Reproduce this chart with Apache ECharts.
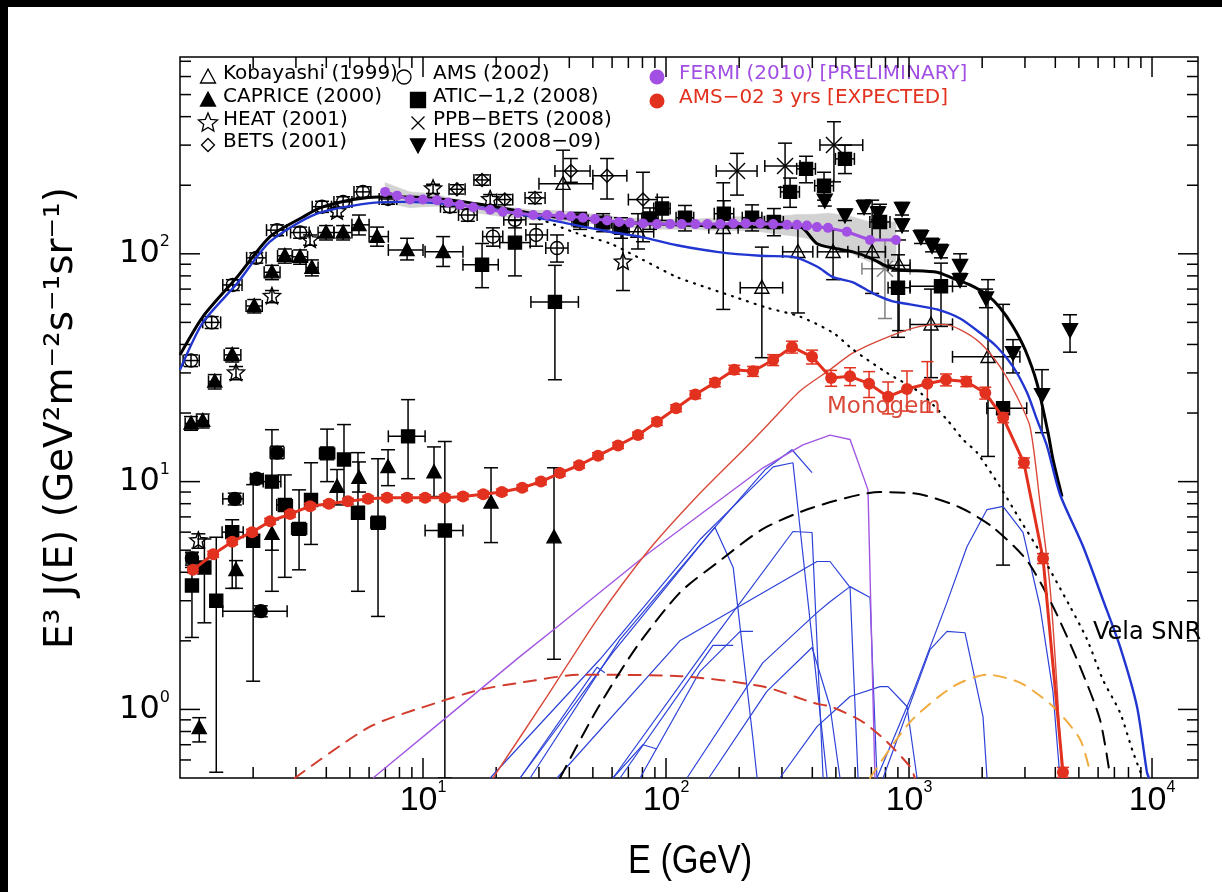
<!DOCTYPE html>
<html>
<head>
<meta charset="utf-8">
<script src="https://cdn.jsdelivr.net/npm/echarts/dist/echarts.min.js"></script>
<style>
  html, body { margin: 0; padding: 0; background: #fff; overflow: hidden; }
  #chart { width: 1222px; height: 892px; }
</style>
</head>
<body>
<div id="chart"></div>
<script>
// Electron + positron spectrum, E^3 J(E) in GeV^2 m^-2 s^-1 sr^-1 versus E in GeV.

const X_MIN = 1, X_MAX = 15460, Y_MIN = 0.5, Y_MAX = 731;
const xDecades = [1, 2, 3, 4];
const yDecades = [0, 1, 2];

// Measured points: [E, flux, E_low, E_high, flux_low, flux_high]
const kobayashi = [
  [37.7, 203, 30, 50, 143, 285],
  [76.7, 125, 66, 89, 105, 150],
  [172, 130, 150, 198, 57, 205],
  [248, 71, 202, 302, 35, 107],
  [349, 102, 302, 402, 55, 130],
  [487, 102, 420, 560, 77, 127],
  [705, 102, 620, 800, 67, 172],
  [910, 89, 820, 1010, 46, 115],
  [1232, 49, 1010, 1510, 28.6, 70],
  [2114, 35.3, 1510, 2860, 12.9, 77]
];
const caprice = [
  [1.11, 18, 1.05, 1.17, 16.8, 19.3],
  [1.24, 18.5, 1.17, 1.31, 17.2, 19.8],
  [1.39, 27.5, 1.31, 1.47, 25.5, 29.5],
  [1.64, 36, 1.52, 1.78, 33.5, 38.5],
  [2.02, 59, 1.87, 2.18, 55, 63],
  [2.39, 83, 2.22, 2.58, 77, 89],
  [2.70, 98, 2.52, 2.9, 91, 105],
  [3.12, 97, 2.9, 3.35, 90, 104],
  [3.49, 87, 3.3, 3.7, 80, 94],
  [3.99, 124, 3.7, 4.3, 115, 133],
  [4.69, 124, 4.3, 5.1, 115, 133],
  [5.45, 134, 5.1, 6.0, 121, 148],
  [6.47, 119, 6.0, 7.2, 108, 131],
  [8.6, 104, 7.2, 10.0, 94, 117],
  [12.1, 102, 10.2, 14.6, 88, 119],
  [1.2, 0.83, 1.2, 1.2, 0.72, 0.92],
  [1.7, 4.1, 1.7, 1.7, 3.4, 4.5],
  [2.39, 5.9, 2.39, 2.39, 5.0, 6.8],
  [4.43, 9.5, 4.43, 4.43, 7.9, 11.3],
  [5.45, 10.4, 5.45, 5.45, 9.0, 12.2],
  [7.18, 11.6, 7.18, 7.18, 9.6, 13.8],
  [11.1, 11, 11.1, 11.1, 8.6, 14.2],
  [19.05, 8.1, 19.05, 19.05, 5.4, 11.5],
  [34.6, 5.7, 34.6, 34.6, 1.66, 11.5]
];
const heat = [
  [1.19, 5.5, 1.19, 1.19, 5.1, 5.9],
  [1.7, 30, 1.7, 1.7, 28, 32],
  [2.39, 65, 2.39, 2.39, 61, 69],
  [3.43, 115, 3.43, 3.43, 109, 121],
  [4.43, 153, 4.43, 4.43, 146, 160],
  [11.0, 193, 11.0, 11.0, 184, 202],
  [18.9, 173, 18.9, 18.9, 164, 182],
  [66.5, 92, 66.5, 66.5, 69, 124]
];
const bets = [
  [13.8, 192, 12.8, 14.9, 183, 201],
  [17.5, 211, 16.2, 18.9, 200, 222],
  [21.7, 173, 20.1, 23.4, 164, 182],
  [28.9, 176, 26.3, 31.8, 166, 186],
  [40.6, 231, 34.9, 48.7, 206, 262],
  [57.2, 220, 50, 69, 174, 262],
  [80.4, 173, 70, 92, 113, 228]
];
const ams01 = [
  [1.11, 34, 1.03, 1.2, 32, 36],
  [1.35, 50, 1.24, 1.47, 47, 53],
  [1.65, 73, 1.5, 1.8, 69, 77],
  [2.06, 96, 1.88, 2.26, 91, 101],
  [2.51, 127, 2.27, 2.75, 120, 134],
  [3.12, 124, 2.85, 3.4, 117, 131],
  [3.84, 161, 3.5, 4.2, 152, 170],
  [4.69, 169, 4.3, 5.1, 160, 178],
  [5.66, 187, 5.2, 6.1, 177, 197],
  [7.18, 174, 6.6, 7.8, 165, 183],
  [12.9, 161, 11.8, 14.0, 152, 170],
  [15.3, 148, 14.0, 16.7, 139, 157],
  [19.4, 119, 17.6, 21.3, 108, 130],
  [23.9, 141, 21.5, 26.5, 130, 152],
  [29.2, 121, 26.5, 32.5, 108, 135],
  [35.6, 106, 32, 39.5, 92, 121]
];
const atic = [
  [17.5, 89.5, 14.6, 20.4, 71, 111],
  [23.9, 112, 20.7, 27.6, 80, 140],
  [34.9, 61.5, 27.8, 43.6, 28, 89],
  [44.3, 140, 41, 47.8, 128, 152],
  [55.1, 137, 51, 59.5, 125, 150],
  [65.3, 130, 60.5, 70.5, 117, 144],
  [85.9, 143, 79.5, 92.8, 128, 159],
  [96.3, 158, 89, 104, 140, 177],
  [119.7, 144, 110, 130, 126, 163],
  [173, 150, 158, 190, 130, 171],
  [226, 144, 206, 248, 126, 164],
  [278, 138, 254, 304, 120, 158],
  [324, 187, 296, 354, 160, 215],
  [377, 236, 345, 412, 205, 268],
  [447, 199, 409, 489, 172, 228],
  [545, 261, 498, 596, 225, 300],
  [760, 138, 690, 835, 115, 165],
  [901, 71, 820, 1010, 43, 99],
  [1354, 72, 1010, 1510, 48, 91],
  [2438, 21, 2090, 3050, 4.3, 60],
  [1.12, 3.5, 1.12, 1.12, 2.07, 4.2],
  [1.26, 4.2, 1.26, 1.26, 2.4, 5.6],
  [1.41, 3.0, 1.41, 1.41, 0.53, 5.7],
  [1.64, 6.0, 1.49, 1.82, 3.4, 6.8],
  [2.0, 5.5, 2.0, 2.0, 1.33, 9.7],
  [2.39, 10, 2.2, 2.6, 3.3, 16.9],
  [2.70, 7.9, 2.5, 2.9, 3.8, 10.7],
  [3.09, 6.2, 2.88, 3.32, 4.1, 9.2],
  [3.46, 8.3, 3.46, 3.46, 5.3, 12.1],
  [4.03, 13.3, 3.75, 4.33, 10, 17],
  [4.73, 12.5, 4.73, 4.73, 8.1, 17.8],
  [5.4, 7.3, 5.4, 5.4, 3.3, 13.4],
  [6.53, 6.6, 6.1, 7.0, 2.56, 12.6],
  [8.68, 15.8, 7.2, 10.2, 10.3, 22.9],
  [12.3, 6.1, 10.2, 14.6, 0.5, 15]
];
const ppbBets = [
  [196, 231, 161, 237, 181, 276],
  [309, 243, 255, 356, 196, 306],
  [491, 300, 430, 645, 207, 380]
];
const ppbBetsSys = [
  [796, 86, 640, 1010, 52, 115]
];
const hess = [
  [450, 172, 450, 450, 162, 182],
  [545, 148, 545, 545, 140, 157],
  [653, 161, 653, 653, 150, 172],
  [745, 151, 745, 745, 141, 161],
  [936, 158, 936, 936, 148, 168],
  [936, 134, 936, 936, 126, 142],
  [1120, 119, 1120, 1120, 111, 127],
  [1244, 109, 1244, 1244, 102, 117],
  [1354, 103, 1354, 1354, 96, 110],
  [1622, 89, 1622, 1622, 80, 100],
  [1622, 77, 1622, 1622, 72, 82],
  [2074, 64, 2074, 2074, 58, 70],
  [2679, 36.8, 2679, 2679, 30, 42],
  [3526, 24.1, 3526, 3526, 16.4, 31],
  [4598, 46.4, 4598, 4598, 37, 54]
];
const positronDots = [
  [1.12, 4.6, 1.06, 1.18, 4.3, 4.9],
  [1.68, 8.4, 1.5, 1.82, 7.9, 8.9],
  [2.07, 10.3, 1.95, 2.2, 9.8, 10.8],
  [2.51, 13.4, 2.35, 2.68, 12.6, 14.3],
  [2.15, 2.7, 1.5, 2.76, 2.55, 2.85]
];

// FERMI (2010) points with fractional systematic band
const fermiE = [6.98, 7.82, 8.84, 10, 11.4, 12.7, 14.2, 16.1, 18.9, 21.3,
  24.6, 28.4, 32.4, 36.6, 40.6, 45.5, 51, 57.2, 64.1, 71.1,
  80.4, 91.8, 104, 116, 132, 148, 167, 189, 213, 244,
  276, 315, 346, 380, 418, 464, 555, 691, 884];
const fermiFlux = [187, 180, 173, 173, 172, 168, 164, 160, 156, 153,
  151, 148, 148, 147, 146, 144, 142, 140, 138, 137,
  136, 135, 135, 135, 135, 135, 135, 136, 136, 136,
  135, 134, 134, 133, 131, 130, 125, 115, 115];
const fermiSys = [0.1, 0.09, 0.08, 0.07, 0.06, 0.05, 0.05, 0.05, 0.05, 0.05,
  0.05, 0.05, 0.05, 0.05, 0.05, 0.05, 0.05, 0.05, 0.05, 0.05,
  0.05, 0.05, 0.05, 0.05, 0.05, 0.06, 0.06, 0.07, 0.07, 0.08,
  0.09, 0.1, 0.11, 0.12, 0.14, 0.16, 0.18, 0.2, 0.2];

// AMS-02 expected positron spectrum after 3 years, with fractional errors
const ams02E = [1.13, 1.37, 1.64, 1.98, 2.35, 2.84, 3.43, 4.1, 4.91, 5.94,
  7.11, 8.59, 10.2, 12.3, 14.6, 17.7, 21.1, 25.6, 30.6, 36.6,
  43.9, 52.5, 63.5, 76.7, 91.8, 110, 132, 159, 191, 228,
  276, 330, 399, 478, 572, 685, 820, 981, 1190, 1420,
  1720, 2060, 2440, 2970, 3560, 4300];
const ams02Flux = [4.1, 4.8, 5.45, 6.0, 6.7, 7.2, 7.8, 8.0, 8.2, 8.4,
  8.5, 8.5, 8.5, 8.5, 8.6, 8.8, 9.0, 9.4, 10, 10.9,
  11.8, 13, 14.4, 16, 18.3, 21, 24.1, 27.2, 31, 30.5,
  34.2, 39, 35.3, 28.5, 29, 26.9, 23.6, 25.5, 26.9, 28,
  27.5, 24.5, 19.1, 12.1, 4.6, 0.53];
const ams02Err = [0.03, 0.03, 0.03, 0.03, 0.03, 0.03, 0.03, 0.03, 0.03, 0.03,
  0.03, 0.03, 0.03, 0.03, 0.03, 0.03, 0.03, 0.03, 0.03, 0.03,
  0.03, 0.03, 0.03, 0.03, 0.035, 0.035, 0.04, 0.04, 0.045, 0.05,
  0.055, 0.06, 0.07, 0.08, 0.09, 0.13, 0.16, 0.2, 0.25, 0.06,
  0.05, 0.06, 0.05, 0.05, 0.05, 0.05];

// Model curves: [E, flux]
const totalModel = [[1.0, 36], [1.243, 53], [1.716, 79], [2.346, 119], [3.208, 145], [3.77, 159],
  [5.15, 173], [6.845, 178], [10.69, 176], [17.16, 165], [33.3, 146], [64.7, 138], [138, 133],
  [243.7, 131], [356, 131], [417, 111], [487, 106], [588, 102], [691, 96], [812, 88], [918, 85],
  [1304, 83], [1517, 78], [1782, 73], [2094, 66], [2368, 58], [2679, 48], [3002, 38], [3363, 27],
  [3733, 16.4], [3913, 12.5], [4262, 8.6]];
const backgroundModel = [[1.0, 31], [1.243, 50], [1.716, 74], [2.346, 113], [3.663, 150], [6.05, 167],
  [8.27, 169], [12.9, 165], [20.75, 155], [39.1, 136], [58.8, 125], [80.4, 118], [111, 109],
  [162, 102], [243.7, 98], [333, 97], [418, 88], [487, 79], [588, 75], [711, 67], [851, 62],
  [1010, 60], [1304, 57], [1622, 52], [1960, 45], [2303, 39], [2679, 32], [3059, 24.6], [3363, 18.7],
  [3698, 14.3], [4180, 8.8], [5200, 5.2], [6280, 3.03], [7380, 1.89], [8670, 1.03], [9530, 0.53],
  [9720, 0.5]];
const secondaryModel = [[20.75, 155], [30, 142], [43.0, 123], [58.8, 111], [80.4, 94], [111, 79],
  [147.5, 71], [188.7, 65], [260, 58], [356, 53], [487, 45], [588, 38], [812, 30], [1110, 24.6],
  [1433, 18.7], [1668, 15.3], [1905, 13.4], [2368, 9.5], [2863, 6.8], [3459, 4.9], [4598, 2.83],
  [5402, 2.03], [6280, 1.35], [7380, 0.97], [8350, 0.65], [9094, 0.51]];
const velaModel = [[36.6, 0.5], [52, 1.0], [75.9, 1.89], [114.2, 3.26], [166.8, 4.5], [250.7, 6.2],
  [402.7, 7.7], [760, 9.0], [1110, 8.8], [1622, 7.7], [2216, 6.3], [3059, 4.5], [3913, 2.83],
  [5054, 1.54], [6110, 0.9], [6720, 0.51]];
const monogemModel = [[19.4, 0.5], [32.4, 1.14], [52, 2.48], [83.5, 4.9], [134, 8.6], [215.4, 14.3],
  [275.6, 18.8], [356, 25], [473, 31], [588, 36.7], [812, 43], [1110, 48], [1380, 49], [1622, 46.5],
  [1960, 40.7], [2368, 32], [2782, 23.6], [3148, 17.4], [3459, 8.1], [3802, 3.46], [4064, 1.26],
  [4262, 0.51]];
const pulsarEnvelope = [[6.23, 0.5], [12.6, 0.93], [25.1, 1.71], [35.6, 2.3], [83.5, 4.8],
  [250.7, 11.5], [366, 14.5], [473, 16], [572, 15.3], [678, 9.2], [724, 0.5]];
const distantSnrModel = [[2.97, 0.5], [6.05, 0.84], [11.4, 1.07], [17.16, 1.22], [25.1, 1.31],
  [44.3, 1.42], [114.2, 1.4], [250.7, 1.26], [402.7, 1.07], [487, 1.02], [647, 0.88], [812, 0.72],
  [1010, 0.56], [1058, 0.5]];
const youngSourceModel = [[691, 0.5], [1010, 0.88], [1517, 1.26], [2094, 1.42], [2863, 1.31],
  [3913, 1.03], [5054, 0.74], [5560, 0.53]];
const pulsarCurves = [
  [[25.1, 0.5], [60.5, 1.78], [156, 6.16], [256, 11.3], [330, 13.8], [399, 10.95]],
  [[18.9, 0.5], [53.5, 1.66], [138, 5.57], [276, 11.6], [333, 12.1], [460, 0.5]],
  [[27.6, 0.5], [64.7, 2.03], [159, 6.29], [189, 4.2], [228, 0.74], [237, 0.5]],
  [[60.5, 0.5], [156, 2.03], [333, 6.04], [399, 5.98], [443, 0.5]],
  [[35.6, 0.5], [114, 2.0], [418, 4.46], [473, 4.46], [572, 3.43], [617, 0.5]],
  [[122, 0.5], [250, 1.6], [418, 2.66], [473, 2.97], [572, 3.46], [691, 3.1], [738, 0.5]],
  [[150, 0.5], [260, 1.2], [399, 1.87], [473, 1.03], [520, 0.5]],
  [[294, 0.5], [418, 0.84], [572, 1.14], [760, 1.26], [820, 1.26], [981, 1.03], [1079, 0.5]],
  [[782, 0.5], [1220, 1.83], [1433, 2.2], [1700, 2.17], [2016, 0.93], [2094, 0.5]],
  [[738, 0.5], [1039, 1.19], [1433, 2.95], [1733, 5.19], [2094, 7.54], [2437, 7.78], [2945, 5.98],
    [3459, 2.83], [3913, 1.19], [4180, 0.5]],
  [[78.2, 0.5], [138, 1.47], [202, 2.2], [228, 2.2]],
  [[64.7, 0.5], [156, 1.91], [189, 1.91]],
  [[60.5, 0.5], [80.4, 0.7], [91.8, 0.67]],
  [[25.1, 0.5], [52, 1.53], [56, 1.45]]
];

const legendLeft = ['Kobayashi (1999)', 'CAPRICE (2000)', 'HEAT (2001)', 'BETS (2001)'];
const legendMiddle = ['AMS (2002)', 'ATIC\u22121,2 (2008)', 'PPB\u2212BETS (2008)', 'HESS (2008\u221209)'];
const legendRight = ['FERMI (2010) [PRELIMINARY]', 'AMS\u221202 3 yrs [EXPECTED]'];

// ---------------------------------------------------------------------------
const FERMI_COLOR = '#a24fe3';
const AMS02_COLOR = '#e2311f';
const PULSAR_BLUE = '#2d42d8';
const CAP_W = 7, CAP_H = 6;

function seg(x1, y1, x2, y2, color, lw) {
  return { type: 'line', shape: { x1, y1, x2, y2 }, style: { stroke: color, lineWidth: lw || 1.5 } };
}

function marker(kind, x, y, s, color, filled, lw) {
  const style = { fill: filled ? color : 'none', stroke: color, lineWidth: lw || 1.4 };
  const h = s / 2;
  switch (kind) {
    case 'circle':
      return { type: 'circle', shape: { cx: x, cy: y, r: h }, style };
    case 'square':
      return { type: 'rect', shape: { x: x - h, y: y - h, width: s, height: s }, style };
    case 'triangle':
      return { type: 'polygon', shape: { points: [[x, y - h * 1.05], [x + h, y + h * 0.8], [x - h, y + h * 0.8]] }, style };
    case 'triangleDown':
      return { type: 'polygon', shape: { points: [[x - h, y - h * 0.8], [x + h, y - h * 0.8], [x, y + h * 1.05]] }, style };
    case 'diamond':
      return { type: 'polygon', shape: { points: [[x, y - h], [x + h, y], [x, y + h], [x - h, y]] }, style };
    case 'star': {
      const pts = [];
      for (let k = 0; k < 10; k++) {
        const r = k % 2 ? h * 0.45 : h;
        const a = -Math.PI / 2 + k * Math.PI / 5;
        pts.push([x + r * Math.cos(a), y + r * Math.sin(a)]);
      }
      return { type: 'polygon', shape: { points: pts }, style };
    }
    case 'cross':
      return { type: 'group', children: [
        seg(x - h, y - h, x + h, y + h, color, lw || 1.4),
        seg(x - h, y + h, x + h, y - h, color, lw || 1.4)
      ] };
  }
  return null;
}

// Data points with error bars drawn through the axis scales
function pointsSeries(name, rows, kind, filled, size, color, capW) {
  const cw = capW || CAP_W;
  return {
    name, type: 'custom', data: rows, clip: true, silent: true,
    renderItem(params, api) {
      const E = api.value(0), V = api.value(1);
      const El = api.value(2), Eh = api.value(3), Vl = api.value(4), Vh = api.value(5);
      const c = api.coord([E, V]);
      const kids = [];
      if (Eh > El) {
        const a = api.coord([El, V]), b = api.coord([Eh, V]);
        kids.push(seg(a[0], c[1], b[0], c[1], color),
          seg(a[0], c[1] - CAP_H, a[0], c[1] + CAP_H, color),
          seg(b[0], c[1] - CAP_H, b[0], c[1] + CAP_H, color));
      }
      if (Vh > Vl) {
        const lo = api.coord([E, Vl]), hi = api.coord([E, Vh]);
        kids.push(seg(c[0], lo[1], c[0], hi[1], color),
          seg(c[0] - cw, lo[1], c[0] + cw, lo[1], color),
          seg(c[0] - cw, hi[1], c[0] + cw, hi[1], color));
      }
      if (kind) kids.push(marker(kind, c[0], c[1], size, color, filled));
      return { type: 'group', children: kids };
    }
  };
}

function curve(name, data, color, width, dash, smooth) {
  return {
    name, type: 'line', data, symbol: 'none', silent: true, clip: true,
    smooth: smooth ? 0.25 : false,
    lineStyle: { color, width, type: dash || 'solid', cap: dash ? 'round' : 'butt', join: 'round' }
  };
}

const isDecade = v => Math.abs(Math.log10(v) - Math.round(Math.log10(v))) < 1e-6;

const xTickVals = [];
for (let d = 0; d <= 4; d++) for (let m = 1; m <= 9; m++) {
  const v = m * Math.pow(10, d);
  if (v > X_MIN && v < X_MAX) xTickVals.push(v);
}
const yTickVals = [];
for (let d = -1; d <= 2; d++) for (let m = 1; m <= 9; m++) {
  const v = +(m * Math.pow(10, d)).toPrecision(6);
  if (v > Y_MIN && v < Y_MAX) yTickVals.push(v);
}

const series = [];

// grey systematic band of the FERMI measurement
series.push({
  name: 'FERMI band', type: 'custom', silent: true, clip: true,
  data: fermiE.map((e, i) => [e, fermiFlux[i]]),
  renderItem(params, api) {
    const i = params.dataIndex;
    if (i >= fermiE.length - 1) return null;
    const pts = [
      api.coord([fermiE[i], fermiFlux[i] * (1 + fermiSys[i])]),
      api.coord([fermiE[i + 1], fermiFlux[i + 1] * (1 + fermiSys[i + 1])]),
      api.coord([fermiE[i + 1], fermiFlux[i + 1] * (1 - fermiSys[i + 1])]),
      api.coord([fermiE[i], fermiFlux[i] * (1 - fermiSys[i])])
    ];
    return { type: 'polygon', shape: { points: pts }, style: { fill: '#d2d2d2', stroke: '#d2d2d2', lineWidth: 0.6 } };
  }
});

pulsarCurves.forEach((c, i) => series.push(curve('pulsar ' + (i + 1), c, PULSAR_BLUE, 1.2)));
series.push(curve('pulsar envelope', pulsarEnvelope, '#a257e2', 1.4));
series.push(curve('Monogem', monogemModel, '#d9493a', 1.4, null, true));
series.push(curve('distant SNR', distantSnrModel, '#d23b2c', 2, [12, 9], true));
series.push(curve('young source', youngSourceModel, '#f0ab3c', 2, [12, 9], true));
series.push(curve('Vela SNR', velaModel, '#000', 2, [14, 9], true));
series.push(curve('secondary', secondaryModel, '#000', 2.2, [1, 7], true));
series.push(curve('total', totalModel, '#000', 3, null, true));
series.push(curve('background', backgroundModel, '#2136d0', 2.4, null, true));

series.push(pointsSeries('PPB-BETS sys', ppbBetsSys, 'cross', false, 16, '#808080'));
series.push(pointsSeries('Kobayashi (1999)', kobayashi, 'triangle', false, 14, '#000'));
series.push(pointsSeries('CAPRICE (2000)', caprice, 'triangle', true, 14, '#000'));
series.push(pointsSeries('HEAT (2001)', heat, 'star', false, 18, '#000'));
series.push(pointsSeries('BETS (2001)', bets, 'diamond', false, 13, '#000'));
series.push(pointsSeries('AMS (2002)', ams01, 'circle', false, 13, '#000'));
series.push(pointsSeries('ATIC-1,2 (2008)', atic, 'square', true, 13, '#000'));
series.push(pointsSeries('PPB-BETS (2008)', ppbBets, 'cross', false, 16, '#000'));
series.push(pointsSeries('HESS (2008-09)', hess, 'triangleDown', true, 15, '#000'));
series.push(pointsSeries('positron', positronDots, 'circle', true, 13, '#000'));

series.push({
  name: 'FERMI (2010)', type: 'line', silent: true, clip: true,
  data: fermiE.map((e, i) => [e, fermiFlux[i]]),
  symbol: 'circle', symbolSize: 10,
  itemStyle: { color: FERMI_COLOR }, lineStyle: { color: FERMI_COLOR, width: 3 }
});
series.push(pointsSeries('AMS-02 errors',
  ams02E.map((e, i) => [e, ams02Flux[i], e, e, ams02Flux[i] * (1 - ams02Err[i]), ams02Flux[i] * (1 + ams02Err[i])]),
  null, false, 0, AMS02_COLOR, 6));
series.push({
  name: 'AMS-02 3 yrs', type: 'line', silent: true, clip: true,
  data: ams02E.map((e, i) => [e, ams02Flux[i]]),
  symbol: 'circle', symbolSize: 12,
  itemStyle: { color: AMS02_COLOR }, lineStyle: { color: AMS02_COLOR, width: 3 }
});

// frame ticks on all four sides
series.push({
  name: 'x ticks', type: 'custom', silent: true, clip: false,
  data: xTickVals.map(v => [v, Y_MIN]),
  renderItem(params, api) {
    const v = api.value(0);
    const b = api.coord([v, Y_MIN]), t = api.coord([v, Y_MAX]);
    const L = isDecade(v) ? 20 : 11;
    return { type: 'group', children: [seg(b[0], b[1], b[0], b[1] - L, '#000'), seg(t[0], t[1], t[0], t[1] + L, '#000')] };
  }
});
series.push({
  name: 'y ticks', type: 'custom', silent: true, clip: false,
  data: yTickVals.map(v => [X_MIN, v]),
  renderItem(params, api) {
    const v = api.value(1);
    const l = api.coord([X_MIN, v]), r = api.coord([X_MAX, v]);
    const L = isDecade(v) ? 20 : 11;
    return { type: 'group', children: [seg(l[0], l[1], l[0] + L, l[1], '#000'), seg(r[0], r[1], r[0] - L, r[1], '#000')] };
  }
});

// page edge bands and the legend, drawn as graphic elements
const graphic = [
  { type: 'rect', shape: { x: 0, y: 0, width: 1222, height: 7 }, style: { fill: '#000' }, z: 100 },
  { type: 'rect', shape: { x: 0, y: 0, width: 8, height: 892 }, style: { fill: '#000' }, z: 100 }
];
const legendFont = { fontSize: 20, fontFamily: '"DejaVu Sans", sans-serif' };
const rowsY = [74, 97, 120, 142];
const leftKinds = [['triangle', false, 15], ['triangle', true, 15], ['star', false, 20], ['diamond', false, 13]];
const midKinds = [['circle', false, 14], ['square', true, 15], ['cross', false, 13], ['triangleDown', true, 15]];
const midSymX = [404, 418, 418, 418];
legendLeft.forEach((t, i) => {
  const k = leftKinds[i];
  graphic.push(marker(k[0], 208, rowsY[i] + 3, k[2], '#000', k[1], 1.3));
  graphic.push({ type: 'text', x: 223, y: rowsY[i], style: Object.assign({ text: t, fill: '#000', align: 'left', verticalAlign: 'middle' }, legendFont) });
});
legendMiddle.forEach((t, i) => {
  const k = midKinds[i];
  graphic.push(marker(k[0], midSymX[i], rowsY[i] + 3, k[2], '#000', k[1], 1.3));
  graphic.push({ type: 'text', x: 433, y: rowsY[i], style: Object.assign({ text: t, fill: '#000', align: 'left', verticalAlign: 'middle' }, legendFont) });
});
[FERMI_COLOR, AMS02_COLOR].forEach((c, i) => {
  const y = [74, 98][i];
  graphic.push({ type: 'circle', shape: { cx: 657, cy: y + 3, r: 7.5 }, style: { fill: c } });
  graphic.push({ type: 'text', x: 679, y, style: Object.assign({ text: legendRight[i], fill: c, align: 'left', verticalAlign: 'middle' }, legendFont) });
});

// annotations and axis titles
graphic.push({ type: 'text', x: 827, y: 407, style: { text: 'Monogem', fill: '#d9493a', fontSize: 23, fontFamily: '"DejaVu Sans", sans-serif', align: 'left', verticalAlign: 'middle' }, z: 10 });
graphic.push({ type: 'text', x: 1093, y: 633, style: { text: 'Vela SNR', fill: '#000', fontSize: 24, fontFamily: '"DejaVu Sans", sans-serif', align: 'left', verticalAlign: 'middle' }, z: 10 });
graphic.push({ type: 'text', x: 690, y: 862, scaleX: 0.86, style: { text: 'E (GeV)', fill: '#000', fontSize: 40, fontFamily: '"Liberation Sans", sans-serif', align: 'center', verticalAlign: 'middle' } });
graphic.push({ type: 'text', x: 62, y: 418, rotation: Math.PI / 2, style: { text: 'E\u00b3 J(E) (GeV\u00b2m\u207b\u00b2s\u207b\u00b9sr\u207b\u00b9)', fill: '#000', fontSize: 39, fontFamily: '"DejaVu Sans", sans-serif', align: 'center', verticalAlign: 'middle' } });

function decadeLabel(list) {
  return v => {
    const p = Math.round(Math.log10(v));
    if (!isDecade(v) || list.indexOf(p) < 0) return '';
    return '{b|10}{s|' + p + '}';
  };
}

const option = {
  animation: false,
  backgroundColor: '#fff',
  grid: {
    left: 180, top: 57, width: 1018, height: 721, show: true,
    borderColor: '#000', borderWidth: 1.5, backgroundColor: 'transparent',
    containLabel: false, outerBoundsMode: 'none'
  },
  xAxis: {
    type: 'log', logBase: 10, min: X_MIN, max: X_MAX,
    axisLine: { show: false }, axisTick: { show: false }, splitLine: { show: false }, minorTick: { show: false },
    axisLabel: {
      margin: 2,
      formatter: decadeLabel(xDecades),
      rich: {
        b: { fontSize: 34, lineHeight: 42, fontFamily: '"Liberation Sans", sans-serif', color: '#000' },
        s: { fontSize: 16, lineHeight: 20, verticalAlign: 'top', fontFamily: '"Liberation Sans", sans-serif', color: '#000' }
      }
    }
  },
  yAxis: {
    type: 'log', logBase: 10, min: Y_MIN, max: Y_MAX,
    axisLine: { show: false }, axisTick: { show: false }, splitLine: { show: false }, minorTick: { show: false },
    axisLabel: {
      margin: 10,
      formatter: decadeLabel(yDecades),
      rich: {
        b: { fontSize: 32, lineHeight: 40, fontFamily: '"DejaVu Sans", sans-serif', color: '#000' },
        s: { fontSize: 16, lineHeight: 20, verticalAlign: 'top', fontFamily: '"DejaVu Sans", sans-serif', color: '#000' }
      }
    }
  },
  graphic,
  series
};

const chart = echarts.init(document.getElementById('chart'), null, { renderer: 'canvas' });
chart.setOption(option);
</script>
</body>
</html>
